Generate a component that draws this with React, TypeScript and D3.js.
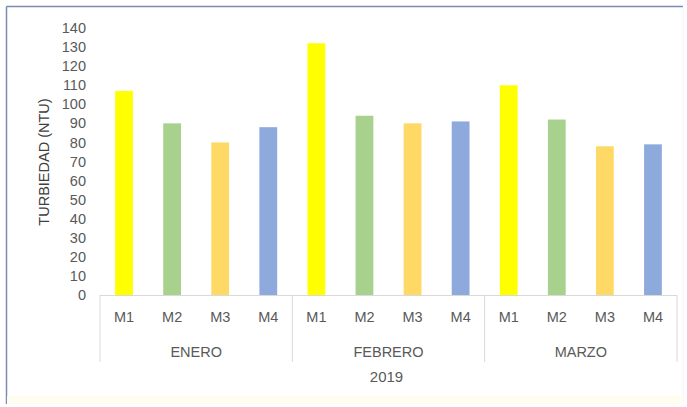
import React from "react";
import * as d3 from "d3";

const months = ["ENERO", "FEBRERO", "MARZO"];
const sites = ["M1", "M2", "M3", "M4"];
const turbidity = [
  [107, 90, 80, 88],
  [132, 94, 90, 91],
  [110, 92, 78, 79],
];
const siteColors = ["#ffff00", "#a9d18e", "#ffd966", "#8eaadc"];
const yTicks = d3.range(0, 141, 10);
const yearLabel = "2019";
const yTitle = "TURBIEDAD (NTU)";

const W = 687;
const H = 407;
const margin = { left: 100, right: 10, top: 28, bottom: 112 };
const font = "'Liberation Sans', Arial, sans-serif";
const textColor = "#595959";
const axisColor = "#d9d9d9";

export default function App() {
  const x0 = 100;
  const x1 = 677;
  const yBase = 295;
  const yTop = 28;

  const cats = months.flatMap((m) => sites.map((s) => `${m}-${s}`));
  const values = turbidity.flat();

  const x = d3.scaleBand<string>().domain(cats).range([x0, x1]).padding(0);
  const y = d3.scaleLinear().domain([0, 140]).range([yBase, yTop]);
  const barW = x.bandwidth() * 0.37;

  const groupW = (x1 - x0) / months.length;

  return (
    <svg
      width={W}
      height={H}
      style={{ position: "absolute", left: 0, top: 0, background: "#ffffff" }}
      fontFamily={font}
    >
      <rect x={0} y={0} width={W} height={H} fill="#ffffff" />
      {/* chart frame */}
      <line x1={6.5} y1={6.5} x2={683} y2={6.5} stroke="#7d8ab3" strokeWidth={1.5} />
      <line x1={6.5} y1={6.5} x2={6.5} y2={404} stroke="#7d8ab3" strokeWidth={1.5} />
      <line x1={683} y1={7} x2={683} y2={404} stroke="#eef2fa" strokeWidth={1} />
      <rect x={7} y={396} width={676} height={8} fill="#fffdf0" />

      {/* bars */}
      {values.map((v, i) => (
        <rect
          key={cats[i]}
          x={(x(cats[i]) as number) + (x.bandwidth() - barW) / 2}
          y={y(v)}
          width={barW}
          height={yBase - y(v)}
          fill={siteColors[i % sites.length]}
        />
      ))}

      {/* y axis labels */}
      {yTicks.map((t) => (
        <text
          key={t}
          x={86}
          y={y(t)}
          dy="0.35em"
          textAnchor="end"
          fontSize={14.5}
          fill={textColor}
        >
          {t}
        </text>
      ))}
      <text
        transform={`translate(49,${162}) rotate(-90)`}
        textAnchor="middle"
        fontSize={14.5}
        fill="#404040"
      >
        {yTitle}
      </text>

      {/* category axis */}
      <line x1={x0} y1={yBase + 0.5} x2={x1} y2={yBase + 0.5} stroke={axisColor} strokeWidth={1} />
      {d3.range(months.length + 1).map((k) => (
        <line
          key={k}
          x1={x0 + k * groupW}
          y1={yBase}
          x2={x0 + k * groupW}
          y2={362}
          stroke={axisColor}
          strokeWidth={1}
        />
      ))}
      {cats.map((c, i) => (
        <text
          key={c}
          x={(x(c) as number) + x.bandwidth() / 2}
          y={317}
          dy="0.35em"
          textAnchor="middle"
          fontSize={14.5}
          fill={textColor}
        >
          {sites[i % sites.length]}
        </text>
      ))}
      {months.map((m, k) => (
        <text
          key={m}
          x={x0 + (k + 0.5) * groupW}
          y={352}
          dy="0.35em"
          textAnchor="middle"
          fontSize={14.5}
          fill={textColor}
        >
          {m}
        </text>
      ))}
      <text
        x={(x0 + x1) / 2 - 2}
        y={377}
        dy="0.35em"
        textAnchor="middle"
        fontSize={15}
        fill={textColor}
      >
        {yearLabel}
      </text>
    </svg>
  );
}
